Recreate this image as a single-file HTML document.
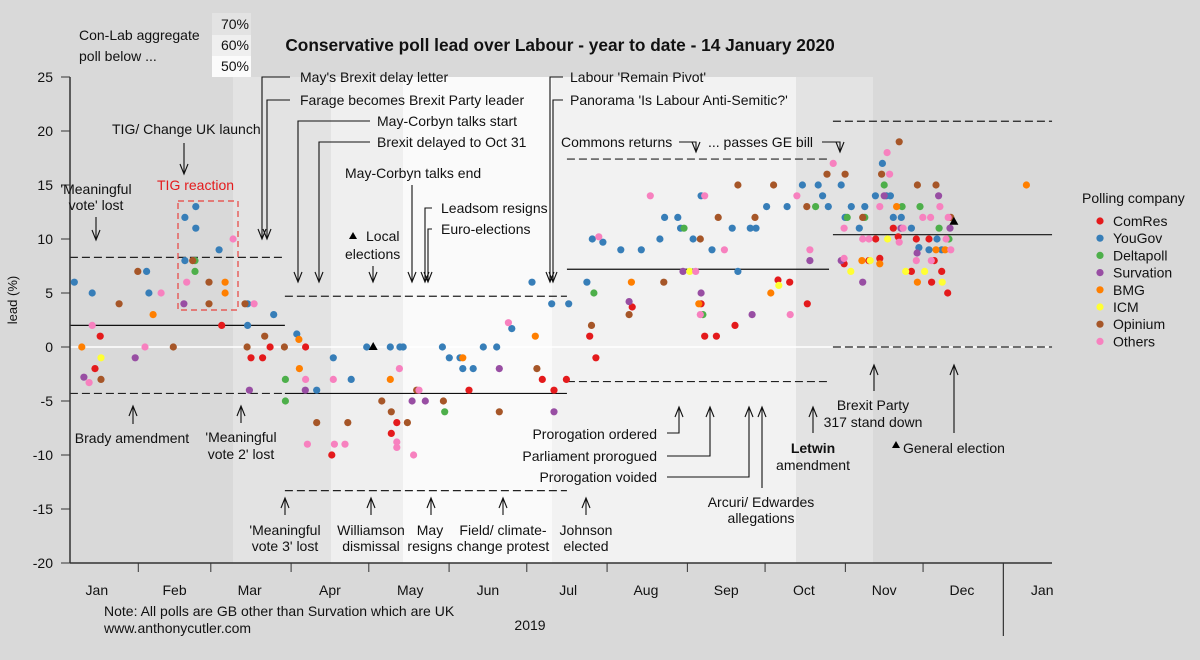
<!DOCTYPE html>
<html><head><meta charset="utf-8"><title>Conservative poll lead over Labour</title>
<style>
html,body{margin:0;padding:0;background:#d9d9d9;}
svg{display:block;font-family:"Liberation Sans",Arial,sans-serif;}
text{fill:#111;font-size:14px;}
</style></head>
<body>
<svg id="chart" width="1200" height="660" viewBox="0 0 1200 660" xmlns="http://www.w3.org/2000/svg">
<rect x="0" y="0" width="1200" height="660" fill="#d9d9d9"/>
<g>
<rect x="233" y="77" width="98" height="486" fill="#e3e3e3"/>
<rect x="331" y="77" width="72" height="486" fill="#efefef"/>
<rect x="403" y="77" width="149" height="486" fill="#fafafa"/>
<rect x="552" y="77" width="244" height="486" fill="#f2f2f2"/>
<rect x="796" y="77" width="77" height="486" fill="#e3e3e3"/>
</g>
<line x1="70" y1="347" x2="1052" y2="347" stroke="#ffffff" stroke-width="1.5"/>
<g>
<text x="79" y="40">Con-Lab aggregate</text>
<text x="79" y="61">poll below ...</text>
<rect x="212" y="13" width="39" height="22" fill="#e3e3e3"/>
<rect x="212" y="35" width="39" height="21" fill="#efefef"/>
<rect x="212" y="56" width="39" height="21" fill="#fbfbfb"/>
<text x="249" y="29" text-anchor="end">70%</text>
<text x="249" y="50" text-anchor="end">60%</text>
<text x="249" y="71" text-anchor="end">50%</text>
</g>
<text x="560" y="51" text-anchor="middle" style="font-size:17.3px;font-weight:bold">Conservative poll lead over Labour - year to date - 14 January 2020</text>
<g id="refs"></g>
<g id="axes"></g>
<rect x="178" y="201" width="60" height="109" fill="none" stroke="#e8433f" stroke-width="1.2" stroke-dasharray="6,4"/>
<text x="157" y="190" fill="#e41a1c" style="fill:#e41a1c">TIG reaction</text>
<g id="arrows" fill="none" stroke="#111" stroke-width="1.1"></g>
<g id="dots"></g>
<g>
<text x="300" y="82">May's Brexit delay letter</text>
<text x="300" y="105">Farage becomes Brexit Party leader</text>
<text x="377" y="126">May-Corbyn talks start</text>
<text x="377" y="147">Brexit delayed to Oct 31</text>
<text x="345" y="178">May-Corbyn talks end</text>
<text x="441" y="213">Leadsom resigns</text>
<text x="441" y="234">Euro-elections</text>
<text x="366" y="241">Local</text>
<text x="345" y="259">elections</text>
<path d="M349,239 L353,232 L357,239 Z" fill="#000"/>
<text x="570" y="82">Labour 'Remain Pivot'</text>
<text x="570" y="105">Panorama 'Is Labour Anti-Semitic?'</text>
<text x="561" y="147">Commons returns</text>
<text x="708" y="147">... passes GE bill</text>
<text x="112" y="134">TIG/ Change UK launch</text>
<text x="96" y="194" text-anchor="middle">'Meaningful</text>
<text x="96" y="210" text-anchor="middle">vote' lost</text>
<text x="132" y="443" text-anchor="middle">Brady amendment</text>
<text x="241" y="442" text-anchor="middle">'Meaningful</text>
<text x="241" y="459" text-anchor="middle">vote 2' lost</text>
<text x="285" y="535" text-anchor="middle">'Meaningful</text>
<text x="285" y="551" text-anchor="middle">vote 3' lost</text>
<text x="371" y="535" text-anchor="middle">Williamson</text>
<text x="371" y="551" text-anchor="middle">dismissal</text>
<text x="430" y="535" text-anchor="middle">May</text>
<text x="430" y="551" text-anchor="middle">resigns</text>
<text x="503" y="535" text-anchor="middle">Field/ climate-</text>
<text x="503" y="551" text-anchor="middle">change protest</text>
<text x="586" y="535" text-anchor="middle">Johnson</text>
<text x="586" y="551" text-anchor="middle">elected</text>
<text x="657" y="439" text-anchor="end">Prorogation ordered</text>
<text x="657" y="461" text-anchor="end">Parliament prorogued</text>
<text x="657" y="482" text-anchor="end">Prorogation voided</text>
<text x="761" y="507" text-anchor="middle">Arcuri/ Edwardes</text>
<text x="761" y="523" text-anchor="middle">allegations</text>
<text x="813" y="453" text-anchor="middle" style="font-weight:bold">Letwin</text>
<text x="813" y="470" text-anchor="middle">amendment</text>
<text x="873" y="410" text-anchor="middle">Brexit Party</text>
<text x="873" y="427" text-anchor="middle">317 stand down</text>
<path d="M892,448 L896,441 L900,448 Z" fill="#000"/>
<text x="903" y="453">General election</text>
<text x="104" y="616">Note: All polls are GB other than Survation which are UK</text>
<text x="104" y="633">www.anthonycutler.com</text>
<text x="530" y="630" text-anchor="middle">2019</text>
<text transform="translate(17,300) rotate(-90)" text-anchor="middle" style="font-size:13px">lead (%)</text>
</g>
<g id="legend">
<text x="1082" y="203">Polling company</text>
</g>
</svg>
<script>
// ---- data ----
const companies = ['ComRes','YouGov','Deltapoll','Survation','BMG','ICM','Opinium','Others'];
const colors = ['#e41a1c','#377eb8','#4daf4a','#984ea3','#ff7f00','#ffff33','#a65628','#f781bf'];
// [day of 2019 (0 = 1 Jan), lead]
const comres = [[63.2,2],[16.3,1],[74.5,-1],[79,-1],[14.3,-2],[81.9,0],[95.6,0],[105.7,-10],[130.8,-7],[128.7,-8],[158.7,-4],[187,-3],[196.3,-3],[191.5,-4],[278,6.2],[282.5,6],[221.7,3.7],[248.3,4],[289.3,4],[261.4,2],[205.3,1],[249.7,1],[254.2,1],[207.7,-1],[322.5,11],[315.7,10],[324.4,10.2],[331.4,10],[336.3,10],[303.5,7.7],[313.1,8],[317.3,8.2],[338.3,8],[329.5,7],[341.2,7],[337.3,6],[343.5,5]];
const yougov = [[53.2,13],[49,12],[53.2,11],[62.2,9],[49,8],[34.2,7],[6.3,6],[13.2,5],[35.1,5],[73.2,4],[83.3,3],[73.2,2],[92.2,1.2],[99.9,-4],[106.3,-1],[113.2,-3],[119.2,0],[128.3,0],[132,0],[133.3,0],[148.4,0],[164.2,0],[169.4,0],[151.1,-1],[155.2,-1],[156.3,-2],[160.3,-2],[175.2,1.7],[183,6],[190.6,4],[197.2,4],[206.3,10],[210.4,9.7],[217.3,9],[225.2,9],[204.2,6],[232.4,10],[234.2,12],[239.3,12],[240.4,11],[245.2,10],[248.3,14],[252.5,9],[260.3,11],[262.5,7],[267.3,11],[269.5,11],[273.6,13],[281.5,13],[287.4,15],[293.5,15],[295.2,14],[297.4,13],[302.4,15],[303.9,12],[306.3,13],[309.4,11],[311.5,13],[315.6,14],[318.3,17],[319.8,14],[321.4,14],[322.5,12],[325.6,12],[329.5,11],[332.4,9.2],[336.3,9],[339.4,10],[341.2,9]];
const deltapoll = [[52.9,8],[52.9,7],[87.8,-3],[87.8,-5],[149.3,-6],[206.9,5],[241.7,11],[249,3],[292.5,13],[304.7,12],[311.5,12],[319,15],[325.9,13],[332.8,13],[340.2,11],[344,10]];
const survation = [[48.6,4],[29.8,-1],[10,-2.8],[73.9,-4],[95.5,-4],[136.7,-5],[141.8,-5],[170.4,-2],[191.5,-6],[241.3,7],[248.3,5],[220.5,4.2],[268,3],[290.3,8],[302.4,8],[310.7,6],[319,14],[325.5,11],[331.7,8.7],[340,14],[344.4,11]];
const bmg = [[64.5,6],[64.5,5],[36.7,3],[9.2,0],[93,0.7],[93.2,-2],[128.3,-3],[156.3,-1],[184.3,1],[221.4,6],[247.4,4],[275.2,5],[310.4,8],[317.3,7.7],[323.8,13],[331.8,6],[339,9],[342.5,9],[373.9,15]];
const icm = [[16.6,-1],[243.9,7],[278.3,5.7],[306.1,7],[313.6,8],[320.3,10],[327.3,7],[334.6,7],[341.4,6]];
const opinium = [[52,8],[30.8,7],[58.3,6],[23.6,4],[58.3,4],[72.2,4],[79.8,1],[44.5,0],[73,0],[87.4,0],[16.6,-3],[99.9,-7],[111.9,-7],[125,-5],[128.7,-6],[134.9,-7],[138.5,-4],[148.8,-5],[170.4,-6],[184.9,-2],[206,2],[220.5,3],[233.9,6],[248,10],[254.9,12],[262.5,15],[269.1,12],[276.3,15],[289.1,13],[296.9,16],[303.9,16],[310.7,12],[318,16],[324.8,19],[331.8,15],[339,15],[344.7,12]];
const others = [[67.6,10],[49.7,6],[39.8,5],[75.7,4],[13.2,2],[33.6,0],[12,-3.3],[95.6,-3],[96.3,-9],[106.7,-9],[110.8,-9],[106.3,-3],[131.8,-2],[130.8,-8.8],[130.8,-9.3],[137.3,-10],[139.4,-4],[173.9,2.25],[208.8,10.2],[228.7,14],[246.2,7],[248,3],[249.7,14],[257.3,9],[282.7,3],[285.3,14],[290.3,9],[299.3,17],[320.1,18],[321.1,16],[303.5,11],[303.5,8.2],[317.3,13],[326.3,11],[340.5,13],[333.9,12],[336.9,12],[343.7,12],[310.7,10],[313.1,10],[324.8,9.7],[342.9,10],[344.7,9],[331.4,8],[337.2,8]];
const series = [comres,yougov,deltapoll,survation,bmg,icm,opinium,others];
// event markers (triangles): local elections, general election
const markerDays = [121.7,345.9];
const markerValues = [0,11.6];
// reference periods: start day, end day, mean, upper, lower
const periodStart = [4.6,87.6,196.5,299.2];
const periodEnd = [87.6,196.5,297.7,383.8];
const periodMean = [2,-4.3,7.2,10.4];
const periodUpper = [8.3,4.7,17.4,20.9];
const periodLower = [-4.3,-13.3,-3.2,0];
// axes
const yTicks = [25,20,15,10,5,0,-5,-10,-15,-20];
const monthTickDays = [31,59,90,120,151,181,212,243,273,304,334];
const monthLabels = ['Jan','Feb','Mar','Apr','May','Jun','Jul','Aug','Sep','Oct','Nov','Dec','Jan'];
const monthLabelDays = [15,45,74,105,136,166,197,227,258,288,319,349,380];
const yearEndDay = 365;

// ---- scales ----
function xs(d){ return 58 + d*2.59; }
function ys(v){ return 347 - v*10.8; }
const NS='http://www.w3.org/2000/svg';
function mk(tag, attrs, parent){ const e=document.createElementNS(NS,tag); for(const k in attrs) e.setAttribute(k, attrs[k]); parent.appendChild(e); return e; }

// axes
const axes=document.getElementById('axes');
let a=mk('line',{x1:70,y1:ys(25),x2:70,y2:ys(-20),stroke:'#333','stroke-width':1.5},axes);


a=mk('line',{x1:70,y1:ys(-20),x2:1052,y2:ys(-20),stroke:'#333','stroke-width':1.5},axes);


yTicks.forEach(v=>{
  const t=mk('line',{x1:61,y1:ys(v),x2:70,y2:ys(v),stroke:'#333','stroke-width':1},axes);
  
  
  const l=mk('text',{x:53,y:ys(v)+5,'text-anchor':'end'},axes);
  l.textContent=String(v);
  
  
});
monthTickDays.forEach(d=>{
  const t=mk('line',{x1:xs(d),y1:ys(-20),x2:xs(d),y2:ys(-20)+9,stroke:'#333','stroke-width':1},axes);
  
  
});
monthLabels.forEach((m,i)=>{
  const l=mk('text',{x:xs(monthLabelDays[i]),y:595,'text-anchor':'middle'},axes);
  l.textContent=m;
  
  
});
a=mk('line',{x1:xs(yearEndDay),y1:ys(-20),x2:xs(yearEndDay),y2:636,stroke:'#333','stroke-width':1.2},axes);



// reference lines
const refs=document.getElementById('refs');
periodStart.forEach((s,i)=>{
  const x1=xs(s), x2=xs(periodEnd[i]);
  const m=mk('line',{x1:x1,x2:x2,y1:ys(periodMean[i]),y2:ys(periodMean[i]),stroke:'#111','stroke-width':1.2},refs);
  
  
  const u=mk('line',{x1:x1,x2:x2,y1:ys(periodUpper[i]),y2:ys(periodUpper[i]),stroke:'#222','stroke-width':1.2,'stroke-dasharray':'8,4'},refs);
  
  
  const lo=mk('line',{x1:x1,x2:x2,y1:ys(periodLower[i]),y2:ys(periodLower[i]),stroke:'#222','stroke-width':1.2,'stroke-dasharray':'8,4'},refs);
  
  
});

// arrows (annotation leaders)
const arrows=document.getElementById('arrows');
const downArrows=[
 'M290,77 H262 V239','M290,100 H267 V239','M370,121 H298 V282','M370,142 H319 V282',
 'M412,185 V282','M432,208 H425 V282','M432,229 H428 V282','M373,266 V282',
 'M563,77 H550 V282','M563,100 H553 V282','M679,142 H696 V152','M822,142 H840 V152',
 'M184,143 V174','M96,217 V240'];
const upArrows=[
 'M133,424 V406','M241,423 V406','M285,515 V498','M371,515 V498','M431,515 V498','M503,515 V498','M586,515 V498',
 'M667,433 H679 V407','M667,456 H710 V407','M667,477 H749 V407','M762,488 V407','M813,433 V407',
 'M874,391 V365','M954,433 V365'];
function endPt(p){ const parts=p.split(/\s+/); let x=+parts[0].slice(1).split(',')[0], y=+parts[0].split(',')[1];
  parts.slice(1).forEach(s=>{ if(s[0]==='H') x=+s.slice(1); else y=+s.slice(1); }); return [x,y]; }
downArrows.forEach(p=>{
  const [x,y]=endPt(p);
  const e=mk('path',{d:p+' M'+(x-4)+','+(y-10)+' L'+x+','+y+' L'+(x+4)+','+(y-10)},arrows);
  
  
});
upArrows.forEach(p=>{
  const [x,y]=endPt(p);
  const e=mk('path',{d:p+' M'+(x-4)+','+(y+10)+' L'+x+','+y+' L'+(x+4)+','+(y+10)},arrows);
  
  
});

// dots
const dots=document.getElementById('dots');
series.forEach((pts,ci)=>{
  pts.forEach(p=>{
    const c=mk('circle',{cx:xs(p[0]).toFixed(1),cy:ys(p[1]).toFixed(1),r:3.6,fill:colors[ci]},dots);
    
    
  });
});
markerDays.forEach((d,i)=>{
  const x=xs(d), y=ys(markerValues[i]);
  const t=mk('path',{d:'M'+(x-4.5)+','+(y+3)+' L'+x+','+(y-5)+' L'+(x+4.5)+','+(y+3)+' Z',fill:'#000'},dots);
  
  
});

// legend
const leg=document.getElementById('legend');
companies.forEach((n,i)=>{
  const y=221+i*17.2;
  const c=mk('circle',{cx:1100,cy:y,r:3.6,fill:colors[i]},leg);
  
  
  const t=mk('text',{x:1113,y:y+5},leg);
  t.textContent=n;
  
  
});
</script>
</body></html>
